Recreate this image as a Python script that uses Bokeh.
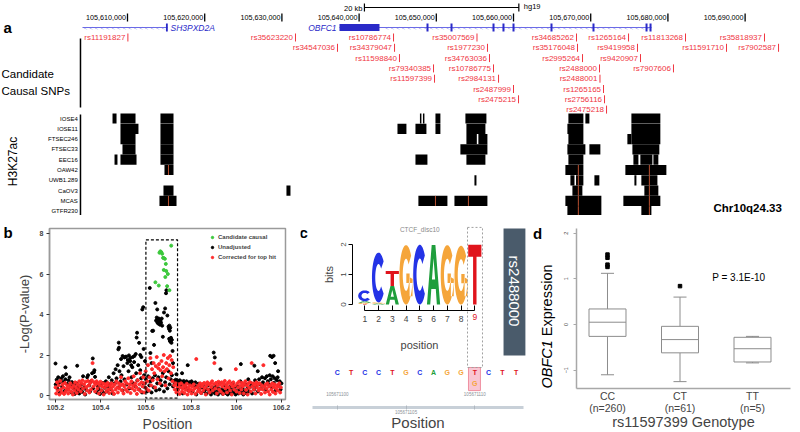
import numpy as np
from bokeh.plotting import figure
from bokeh.layouts import column, row
from bokeh.models import Range1d, Label, LinearAxis, FixedTicker, Legend, LegendItem
from bokeh.core.properties import value
from bokeh.embed import file_html
from bokeh.resources import INLINE

FONT = "Liberation Sans"

# ------------------------------------------------------------------ panel a data
GENOME_TICKS = [105610000, 105620000, 105630000, 105640000, 105650000,
                105660000, 105670000, 105680000, 105690000]
GENOME_TICK_LABELS = ["105,610,000", "105,620,000", "105,630,000", "105,640,000", "105,650,000",
                      "105,660,000", "105,670,000", "105,680,000", "105,690,000"]
SCALE_BAR = [105640690, 105660690]          # 20 kb
GENE_NAMES = ["SH3PXD2A", "OBFC1"]
GENE_START = [105604170, 105637460]
GENE_END = [105615180, 105677880]
SH3_EXONS = [105615100]
OBFC1_CDS = [105637460, 105642640]
OBFC1_EXONS = [105648860, 105651970, 105657410, 105658700, 105660000,
               105664920, 105670360, 105677230, 105677750]

SNP_NAMES = ["rs11191827", "rs35623220", "rs34547036", "rs10786774", "rs34379047", "rs11598840",
             "rs79340385", "rs11597399", "rs35007569", "rs1977230", "rs34763036", "rs10786775",
             "rs2984131", "rs2487999", "rs2475215", "rs34685262", "rs35176048", "rs2995264",
             "rs2488000", "rs2488001", "rs1265165", "rs2756116", "rs2475218", "rs1265164",
             "rs9419958", "rs9420907", "rs7907606", "rs11813268", "rs11591710", "rs35818937",
             "rs7902587"]
SNP_POS = [105610050, 105631760, 105637200, 105644460, 105644590, 105645230,
           105649640, 105649770, 105655270, 105656630, 105656890, 105657410,
           105658060, 105660000, 105660650, 105668160, 105668290, 105668940,
           105671140, 105671200, 105671660, 105671790, 105672050, 105674900,
           105676060, 105676450, 105680720, 105682280, 105687590, 105692510,
           105694330]
SNP_ROW = [0, 0, 1, 0, 1, 2, 3, 4, 0, 1, 2, 3, 4, 5, 6, 0, 1, 2, 3, 4, 5, 6, 7, 0, 1, 2, 3, 0, 1, 0, 1]

TRACKS = ["IOSE4", "IOSE11", "FTSEC246", "FTSEC33", "EEC16", "OAW42", "UWB1.289", "CaOV3", "MCAS", "GTFR230"]
PEAK_TRACK = [0] * 10 + [1] * 8 + [2] * 7 + [3] * 6 + [4] * 9 + [5] * 3 + [6] * 6 + [7] * 4 + [8] * 5 + [9] * 2
PEAK_START = [105608060, 105609090, 105614270, 105647880, 105648270, 105649890, 105653770, 105667110, 105669310, 105675270,
              105609090, 105614270, 105644970, 105647300, 105649890, 105653900, 105666980, 105675270,
              105609090, 105614270, 105653900, 105655450, 105667110, 105674750, 105675270,
              105609350, 105614270, 105653120, 105666980, 105669830, 105675400,
              105608320, 105609090, 105614270, 105647300, 105653900, 105667110, 105675530, 105676430, 105678120,
              105614790, 105666720, 105674490,
              105654940, 105667370, 105668100, 105670480, 105675660, 105676560,
              105614660, 105630590, 105667630, 105676950,
              105614140, 105647680, 105652350, 105666720, 105674230,
              105666980, 105676560]
PEAK_END = [105608580, 105611040, 105615960, 105648070, 105648460, 105650530, 105656490, 105669050, 105669830, 105679020,
            105611420, 105615960, 105646130, 105648720, 105650530, 105656360, 105669050, 105679020,
            105611040, 105615960, 105655250, 105656620, 105669050, 105675270, 105679020,
            105611040, 105615960, 105656620, 105669310, 105671250, 105678890,
            105608700, 105611170, 105615960, 105648850, 105656360, 105669050, 105676180, 105677990, 105678760,
            105615960, 105669050, 105679800,
            105655200, 105667900, 105669050, 105671120, 105675920, 105678640,
            105615960, 105631110, 105668920, 105678760,
            105616350, 105651440, 105656620, 105671380, 105679020,
            105671380, 105677860]
MARK_TRACK = [5, 8, 8, 8, 5, 6, 7, 8, 9, 5, 6, 7, 8, 9]
MARK_POS = [105615310, 105615310, 105649890, 105654160,
            105668400, 105668400, 105668400, 105668400, 105668400,
            105677600, 105677600, 105677600, 105677600, 105677600]

# ------------------------------------------------------------------ panel b data
UNADJ = [(105.201, .55), (105.205, .78), (105.208, .35), (105.212, .9), (105.215, .62), (105.219, .12), (105.222, .71),
         (105.226, .85), (105.229, .44), (105.233, .95), (105.236, .68), (105.24, .22), (105.244, .8), (105.247, 1.05),
         (105.251, .58), (105.255, .3), (105.258, .75), (105.262, .9), (105.266, .48), (105.27, .15), (105.273, .66),
         (105.277, .38), (105.281, .52), (105.285, .08), (105.289, .3), (105.293, .6), (105.297, .22), (105.301, .42),
         (105.305, .1), (105.31, .35), (105.314, .55), (105.318, .18), (105.322, .95), (105.327, .4), (105.331, .05),
         (105.336, .28), (105.34, .9), (105.344, 1.0), (105.349, .5), (105.353, .2), (105.357, .7), (105.362, 1.1),
         (105.366, .35), (105.37, 1.15), (105.375, .92), (105.379, .6), (105.383, .15), (105.388, .45), (105.392, .3),
         (105.397, .08), (105.401, .5), (105.405, .25), (105.41, .62), (105.414, .12), (105.418, .38), (105.423, .7),
         (105.427, .2), (105.431, .45), (105.436, .9), (105.44, .55), (105.444, .32), (105.449, .75), (105.453, .1),
         (105.457, 1.1), (105.462, .6), (105.466, 1.3), (105.47, .85), (105.475, 1.5), (105.479, .4), (105.483, 1.2),
         (105.488, .7), (105.492, 1.0), (105.497, .25), (105.501, 1.45), (105.505, .8), (105.51, 1.9), (105.514, .55),
         (105.518, 1.6), (105.523, 1.2), (105.527, .35), (105.531, 1.85), (105.536, .9), (105.54, 1.4), (105.544, .6),
         (105.549, 1.95), (105.553, .45), (105.557, 1.1), (105.562, .75), (105.566, 1.5), (105.57, .3), (105.575, 1.25),
         (105.579, .85), (105.583, .15), (105.588, .6), (105.592, 1.0), (105.596, .4), (105.6, .8), (105.605, .2),
         (105.61, .95), (105.615, .5), (105.62, .7), (105.625, .15), (105.63, .85), (105.635, .4), (105.64, 1.0),
         (105.645, .25), (105.65, .6), (105.655, .9), (105.66, .3), (105.665, .75), (105.67, .5), (105.675, 1.1),
         (105.68, .2), (105.685, .65), (105.69, .9), (105.695, .35), (105.7, 1.2), (105.705, .55), (105.71, .8),
         (105.715, 1.0), (105.72, .45), (105.724, .72), (105.728, .6), (105.732, .78), (105.737, .66), (105.741, .3),
         (105.745, .7), (105.75, .75), (105.754, .52), (105.758, .68), (105.763, .1), (105.767, .72), (105.771, .6),
         (105.776, .4), (105.78, .7), (105.784, .62), (105.789, .25), (105.793, .66), (105.797, .55), (105.802, .7),
         (105.806, .2), (105.81, .6), (105.815, .5), (105.819, .65), (105.823, .05), (105.828, .45), (105.832, .58),
         (105.836, .3), (105.841, .5), (105.845, .12), (105.849, .4), (105.854, .55), (105.858, .22), (105.862, .35),
         (105.867, .08), (105.871, .3), (105.875, .5), (105.88, .15), (105.884, .28), (105.888, .05), (105.893, .4),
         (105.897, .18), (105.901, .3), (105.906, .1), (105.91, .45), (105.914, .2), (105.919, .05), (105.923, .35),
         (105.927, .6), (105.932, .15), (105.936, .3), (105.94, .08), (105.945, .25), (105.949, .5), (105.953, .12),
         (105.958, .3), (105.962, .05), (105.966, .2), (105.971, .42), (105.975, .1), (105.979, .28), (105.984, .6),
         (105.988, .15), (105.992, .35), (105.997, .05), (106.001, .22), (106.005, .45), (106.01, .1), (106.014, .3),
         (106.018, .7), (106.023, .15), (106.027, .38), (106.031, .05), (106.036, .25), (106.04, .55), (106.044, .12),
         (106.049, .35), (106.053, .8), (106.057, .2), (106.062, .42), (106.066, .6), (106.07, .1), (106.075, .5),
         (106.079, .3), (106.083, .75), (106.088, .45), (106.092, .62), (106.096, .2), (106.101, .8), (106.105, .55),
         (106.109, .35), (106.114, .9), (106.118, .65), (106.122, .48), (106.127, .85), (106.131, .3), (106.135, .95),
         (106.14, .7), (106.144, .55), (106.148, 1.0), (106.153, .8), (106.157, .4), (106.161, .95), (106.166, .62),
         (106.17, .85), (106.174, .25), (106.179, .75), (106.183, .9), (106.187, .5), (106.192, .7), (106.196, .3),
         (106.2, .6),
         # elevated signal
         (105.2, 1.58), (105.244, 1.39), (105.296, 1.47), (105.365, 1.83), (105.372, 1.25), (105.48, 2.61),
         (105.481, 2.36), (105.478, 2.28), (105.49, 1.8), (105.497, 1.95), (105.505, 1.88), (105.512, 1.92),
         (105.52, 1.75), (105.525, 1.98), (105.53, 1.7), (105.535, 1.5), (105.542, 1.9), (105.548, 1.65),
         (105.555, 2.05), (105.561, 3.1), (105.559, 2.86), (105.57, 2.6), (105.575, 2.0), (105.58, 1.9),
         (105.584, 4.25), (105.588, 4.36), (105.59, 2.3), (105.596, 1.7), (105.617, 5.31), (105.62, 2.1),
         (105.625, 1.6), (105.628, 3.19), (105.632, 3.2), (105.636, 2.5), (105.642, 4.57), (105.65, 4.25),
         (105.645, 3.7), (105.648, 3.85), (105.651, 3.6), (105.653, 3.75), (105.655, 3.55), (105.657, 3.8),
         (105.66, 3.65), (105.662, 3.5), (105.664, 3.72), (105.667, 3.6), (105.67, 3.8), (105.672, 3.45),
         (105.675, 2.9), (105.68, 4.1), (105.685, 4.3), (105.689, 5.05), (105.691, 5.2), (105.695, 3.95),
         (105.7, 3.4), (105.702, 3.3), (105.704, 3.45), (105.706, 3.2), (105.708, 3.35), (105.703, 2.8),
         (105.706, 2.7), (105.709, 2.65), (105.711, 2.85), (105.713, 2.6), (105.715, 2.75), (105.718, 2.2),
         (105.72, 1.6), (105.735, 1.05), (105.76, 1.1), (105.785, 1.5), (105.9, 2.12), (105.905, 1.88),
         (105.93, 1.3), (106.02, 1.55), (106.08, 1.47), (106.095, 1.2), (106.15, 1.96), (106.158, 1.9),
         (106.165, 1.96), (106.172, 1.6), (106.185, 1.2)]
CORRECTED = [(105.2, .4), (105.203, .1), (105.207, .65), (105.21, .25), (105.214, .5), (105.217, .05), (105.221, .72),
             (105.224, .3), (105.228, .15), (105.231, .55), (105.235, .4), (105.238, .08), (105.242, .62), (105.245, .2),
             (105.249, .35), (105.252, .5), (105.256, .1), (105.259, .28), (105.263, .45), (105.266, .6), (105.27, .18),
             (105.273, .38), (105.277, .05), (105.28, .5), (105.284, .25), (105.287, .65), (105.291, .4), (105.294, .12),
             (105.298, .55), (105.301, .3), (105.305, .7), (105.308, .45), (105.312, .2), (105.315, .6), (105.319, .75),
             (105.322, .35), (105.326, .55), (105.329, .08), (105.333, .68), (105.336, .42), (105.34, .25), (105.343, .72),
             (105.347, .5), (105.35, .15), (105.354, .62), (105.357, .3), (105.361, .75), (105.364, 1.6), (105.368, .45),
             (105.371, .65), (105.375, .2), (105.378, .55), (105.382, .7), (105.385, .35), (105.389, .6), (105.392, .1),
             (105.396, .5), (105.399, .68), (105.403, .25), (105.406, .45), (105.41, .6), (105.413, .05), (105.417, .38),
             (105.42, .55), (105.424, .2), (105.427, .48), (105.431, .62), (105.434, .3), (105.438, .12), (105.441, .5),
             (105.445, .35), (105.448, .6), (105.452, .22), (105.455, .45), (105.459, .08), (105.462, .55), (105.466, .3),
             (105.469, .7), (105.473, .4), (105.476, .15), (105.48, .6), (105.483, .35), (105.487, .5), (105.49, .9),
             (105.494, .25), (105.497, .55), (105.501, .1), (105.504, .45), (105.508, .7), (105.511, .3), (105.515, .6),
             (105.518, .2), (105.522, .85), (105.525, .4), (105.529, .55), (105.532, .12), (105.536, .7), (105.539, .35),
             (105.543, .5), (105.546, .95), (105.55, .25), (105.553, .6), (105.557, .42), (105.56, .08), (105.564, .75),
             (105.567, .3), (105.571, .55), (105.574, 1.1), (105.578, .2), (105.581, .65), (105.585, .45), (105.588, .9),
             (105.592, .15), (105.595, .6), (105.599, 1.2), (105.602, .35), (105.606, .7), (105.609, 1.5), (105.613, .25),
             (105.616, .9), (105.62, 1.85), (105.623, .5), (105.627, 1.3), (105.63, .75), (105.634, 1.6), (105.637, 1.1),
             (105.641, .4), (105.644, 1.45), (105.648, 1.9), (105.651, .8), (105.655, 1.35), (105.658, 1.55), (105.662, .6),
             (105.665, 1.25), (105.669, 1.7), (105.672, .95), (105.676, 1.4), (105.679, 2.0), (105.683, 1.2), (105.686, .5),
             (105.69, 1.6), (105.693, 1.3), (105.697, 1.85), (105.7, .85), (105.704, 1.5), (105.707, 1.95), (105.711, 1.1),
             (105.714, 1.75), (105.718, .7), (105.721, 1.4), (105.725, .5), (105.728, .3), (105.732, .6), (105.735, .15),
             (105.739, .45), (105.742, .25), (105.746, .55), (105.749, .08), (105.753, .4), (105.756, .6), (105.76, .2),
             (105.763, .35), (105.767, .5), (105.77, .12), (105.774, .45), (105.777, .28), (105.781, .58), (105.784, .05),
             (105.788, .4), (105.791, .22), (105.795, .5), (105.798, .3), (105.802, .1), (105.805, .45), (105.809, .25),
             (105.812, .55), (105.816, .35), (105.819, .08), (105.823, 1.8), (105.826, .4), (105.83, .2), (105.833, .5),
             (105.837, .3), (105.84, .6), (105.844, .12), (105.847, .45), (105.851, .55), (105.854, .25), (105.858, .62),
             (105.861, .38), (105.865, .05), (105.868, .5), (105.872, .65), (105.875, .3), (105.879, .55), (105.882, .15),
             (105.886, .6), (105.889, .42), (105.893, .7), (105.896, .25), (105.9, .55), (105.903, 1.6), (105.907, .35),
             (105.91, .62), (105.914, .1), (105.917, .5), (105.921, .68), (105.924, .3), (105.928, .55), (105.931, .2),
             (105.935, .65), (105.938, .45), (105.942, .08), (105.945, .58), (105.949, .72), (105.952, .35), (105.956, .5),
             (105.959, .15), (105.963, .62), (105.966, .4), (105.97, .7), (105.973, .25), (105.977, .55), (105.98, .05),
             (105.984, .45), (105.987, .65), (105.991, .3), (105.994, .5), (105.998, 1.3), (106.001, .2), (106.005, .6),
             (106.008, .4), (106.012, .68), (106.015, .12), (106.019, .5), (106.022, .3), (106.026, .62), (106.029, .45),
             (106.033, .1), (106.036, .55), (106.04, .7), (106.043, .28), (106.047, .5), (106.05, .05), (106.054, .6),
             (106.057, .38), (106.061, .65), (106.064, .2), (106.068, 1.6), (106.071, .45), (106.075, .6), (106.078, .3),
             (106.082, .52), (106.085, .1), (106.089, .65), (106.092, .4), (106.096, .55), (106.099, .25), (106.103, .6),
             (106.106, .35), (106.11, .08), (106.113, .5), (106.117, .3), (106.12, 1.5), (106.124, .45), (106.127, .15),
             (106.131, .55), (106.134, .35), (106.138, .6), (106.141, .2), (106.145, .45), (106.148, .05), (106.152, .5),
             (106.155, .3), (106.159, .6), (106.162, .18), (106.166, .42), (106.169, .55), (106.173, .1), (106.176, .35),
             (106.18, .5), (106.183, .25), (106.187, .45), (106.19, .6), (106.194, .15), (106.197, .4)]
CANDIDATE = [(105.642, 5.59), (105.657, 5.43), (105.66, 7.05), (105.664, 7.12), (105.668, 7.08), (105.672, 7.0),
             (105.676, 6.8), (105.68, 6.78), (105.684, 6.75), (105.679, 6.2), (105.69, 6.15), (105.686, 5.85),
             (105.697, 6.0), (105.694, 5.4), (105.704, 5.2), (105.712, 7.4), (105.688, 6.5)]
REGION = dict(left=105.60, right=105.74, bottom=-0.13, top=7.69)
B_TICKS = [105.2, 105.4, 105.6, 105.8, 106.0, 106.2]
B_PLOT_X = (105.1735, 106.2177)     # plotting box
B_PLOT_Y = (-0.198, 8.247)

# ------------------------------------------------------------------ panel c data
LOGO_X = [105671102, 105671103, 105671104, 105671105, 105671106, 105671107, 105671108, 105671109, 105671110]
LOGO_STACKS = [[("T", 0.02), ("G", 0.04), ("A", 0.05), ("C", 0.36)],
               [("A", 0.03), ("G", 0.04), ("C", 1.66)],
               [("A", 0.62), ("T", 0.50)],
               [("G", 1.98)], [("C", 1.99)], [("A", 1.98)], [("G", 1.98)], [("G", 1.96)], [("T", 1.99)]]
SEQ_X = [105671100, 105671101, 105671102, 105671103, 105671104, 105671105, 105671106,
         105671107, 105671108, 105671109, 105671110, 105671111, 105671112, 105671113]
SEQ_BASES = list("CTCCTGCAGGTCTT")
SNP_X = 105671110
ALT_BASE = "G"
GEN_TICKS = [105671100, 105671105, 105671110]
BASE_COLOR = {"A": "#1f9e3c", "C": "#2433e6", "G": "#f5a53a", "T": "#e0141c"}

# ------------------------------------------------------------------ panel d data
GENOTYPES = ["CC", "CT", "TT"]
GENO_N = [260, 61, 5]
Q1 = [-0.26, -0.62, -0.82]
MED = [0.05, -0.33, -0.53]
Q3 = [0.34, -0.04, -0.28]
LOWER = [-1.10, -1.25, -0.84]
UPPER = [1.12, 0.60, -0.26]
OUT_GROUP = [1, 1, 1, 1, 2]
OUT_VAL = [1.53, 1.46, 1.31, 1.26, 0.84]
D_PLOT_X = (0.572, 3.524)
D_PLOT_Y = (-1.40, 2.10)


def lab(p, text, x, y, size, color="black", style="normal", align="left", baseline="middle",
        angle=0.0, xu="data", yu="data"):
    p.add_layout(Label(x=x, y=y, x_units=xu, y_units=yu, text=text, text_font=FONT,
                       text_font_size=f"{size}px", text_color=color, text_font_style=style,
                       text_align=align, text_baseline=baseline, angle=angle))


def base_fig(w, h, xr, yr):
    p = figure(width=w, height=h, x_range=Range1d(*xr), y_range=Range1d(*yr),
               x_axis_type=None, y_axis_type=None, output_backend="svg", toolbar_location=None,
               min_border=0, outline_line_color=None)
    return p


def style_axis(ax, size="7px", bold=False):
    ax.minor_tick_line_color = None
    ax.major_label_text_font = FONT
    ax.major_label_text_font_size = size
    if bold:
        ax.major_label_text_font_style = "bold"
    ax.axis_label_text_font = FONT
    ax.axis_label_text_font_style = "normal"


# ================================================================== panel a
pa = base_fig(800, 215, (105593550, 105697174), (215, 0))
nt = len(GENOME_TICKS)
pa.segment(GENOME_TICKS, [13] * nt, GENOME_TICKS, [21] * nt, line_color="black", line_width=1.3)
pa.text(GENOME_TICKS, [17] * nt, text=GENOME_TICK_LABELS, text_align="right", text_baseline="middle",
        x_offset=-1.5, text_font=value(FONT), text_font_size="7.2px", text_color="black")
# scale bar
pa.segment([SCALE_BAR[0]], [7], [SCALE_BAR[1]], [7], line_color="black", line_width=1)
pa.segment(SCALE_BAR, [3, 3], SCALE_BAR, [11, 11], line_color="black", line_width=1.2)
pa.text([SCALE_BAR[0]], [7.5], text=["20 kb"], text_align="right", text_baseline="middle", x_offset=-2,
        text_font=value(FONT), text_font_size="7.5px")
pa.text([SCALE_BAR[1]], [6], text=["hg19"], text_align="left", text_baseline="middle", x_offset=5,
        text_font=value(FONT), text_font_size="7.5px")
# genes
GY = 27
GENE_BLUE = "#2a2ac8"
pa.segment(GENE_START, [GY] * 2, GENE_END, [GY] * 2, line_color="#6a6ae6", line_width=1)
chev_x = np.concatenate([np.arange(GENE_START[i] + 400, GENE_END[i] - 300, 720) for i in range(2)])
chev_x = chev_x[(chev_x < OBFC1_CDS[0]) | (chev_x > OBFC1_CDS[1] + 300)]
pa.text(chev_x, [GY] * len(chev_x), text=["<"] * len(chev_x), text_align="center", text_baseline="middle",
        text_font=value(FONT), text_font_size="5.5px", text_color="#7070e6")
pa.quad(left=[x - 120 for x in SH3_EXONS], right=[x + 120 for x in SH3_EXONS], bottom=GY - 4, top=GY + 4,
        fill_color=GENE_BLUE, line_color=None)
pa.quad(left=[OBFC1_CDS[0]], right=[OBFC1_CDS[1]], bottom=GY - 3.5, top=GY + 3.5, fill_color=GENE_BLUE, line_color=None)
pa.quad(left=[x - 130 for x in OBFC1_EXONS], right=[x + 130 for x in OBFC1_EXONS], bottom=GY - 4, top=GY + 4,
        fill_color=GENE_BLUE, line_color=None)
pa.text([GENE_END[0], GENE_START[1]], [GY + 0.5] * 2, text=GENE_NAMES, text_align=["left", "right"],
        x_offset=[3, -3], text_baseline="middle", text_font=value(FONT), text_font_size="8.5px",
        text_font_style="italic", text_color=GENE_BLUE)
# candidate SNPs
SNP_RED = "#f0363f"
snp_y = [37 + 10.3 * r for r in SNP_ROW]
pa.text(SNP_POS, snp_y, text=SNP_NAMES, text_align="right", text_baseline="middle", x_offset=-2.5,
        text_font=value(FONT), text_font_size="8px", text_color=SNP_RED)
pa.segment(SNP_POS, [y - 4 for y in snp_y], SNP_POS, [y + 4 for y in snp_y], line_color=SNP_RED, line_width=1)
# H3K27ac tracks
track_y = [118 + 10.3 * i for i in range(len(TRACKS))]
py_ = [track_y[t] for t in PEAK_TRACK]
pa.quad(left=PEAK_START, right=PEAK_END, bottom=[y + 5.1 for y in py_], top=[y - 5.1 for y in py_],
        fill_color="black", line_color=None)
my_ = [track_y[t] for t in MARK_TRACK]
pa.segment(MARK_POS, [y - 5 for y in my_], MARK_POS, [y + 5 for y in my_], line_color="#e8643c", line_width=0.8)
TRACK_EDGE = 105603910
pa.text([TRACK_EDGE - 350] * len(TRACKS), track_y, text=TRACKS, text_align="right", text_baseline="middle",
        text_font=value(FONT), text_font_size="6px", text_color="black")
pa.segment([TRACK_EDGE, TRACK_EDGE], [38, 114], [TRACK_EDGE, TRACK_EDGE], [107, 215], line_color="black", line_width=1.5)
lab(pa, "a", 105593940, 27, 15, style="bold")
lab(pa, "Candidate", 105593680, 73, 11.5)
lab(pa, "Causal SNPs", 105593680, 90, 11.5)
lab(pa, "H3K27ac", 105595230, 161, 12, align="center", angle=np.pi / 2)
lab(pa, "Chr10q24.33", 105685905, 207, 11.5, style="bold")

# ================================================================== panel b
pb = base_fig(300, 217, (104.9566, 106.2841), (-1.827, 8.889))
xb = LinearAxis(fixed_location=B_PLOT_Y[0], bounds=B_PLOT_X, ticker=FixedTicker(ticks=B_TICKS),
                major_label_overrides={106.0: "106"}, axis_label="Position")
yb = LinearAxis(fixed_location=B_PLOT_X[0], bounds=B_PLOT_Y, ticker=FixedTicker(ticks=[0, 2, 4, 6, 8]),
                axis_label="-Log(P-value)")
for ax in (xb, yb):
    style_axis(ax, "7px", bold=True)
    ax.axis_line_color = "#9a9a9a"
    ax.axis_line_width = 1.5
    ax.major_tick_line_color = "#333333"
    ax.major_tick_out = 3
    ax.major_tick_in = 0
xb.major_label_standoff = 2
xb.axis_label_text_font_size = "14px"
xb.axis_label_standoff = 3
yb.major_label_standoff = 3
yb.axis_label_text_font_size = "13px"
yb.axis_label_standoff = 5
pb.add_layout(xb, "below")
pb.add_layout(yb, "left")
pb.quad(left=[B_PLOT_X[0]], right=[B_PLOT_X[1]], bottom=[B_PLOT_Y[0]], top=[B_PLOT_Y[1]],
        fill_color=None, line_color="#9a9a9a", line_width=1.5)
rb = pb.scatter([p[0] for p in UNADJ], [p[1] for p in UNADJ], size=3, color="black")
rr = pb.scatter([p[0] for p in CORRECTED], [p[1] for p in CORRECTED], size=3, color="#ff2a2a")
rg = pb.scatter([p[0] for p in CANDIDATE], [p[1] for p in CANDIDATE], size=3, color="#3cc83c")
pb.quad(left=[REGION["left"]], right=[REGION["right"]], bottom=[REGION["bottom"]], top=[REGION["top"]],
        fill_color=None, line_color="black", line_dash="3 2", line_width=1.2)
leg = Legend(items=[LegendItem(label="Candidate causal", renderers=[rg]),
                    LegendItem(label="Unadjusted", renderers=[rb]),
                    LegendItem(label="Corrected for top hit", renderers=[rr])],
             location=(209, 170), margin=0, padding=0, spacing=0, label_height=10, glyph_height=8,
             glyph_width=6, label_standoff=3, label_text_font=FONT, label_text_font_size="6px",
             label_text_font_style="bold", background_fill_alpha=0, border_line_color=None)
pb.add_layout(leg)
lab(pb, "b", 104.97, 8.05, 15, style="bold")

# ================================================================== panel c
pc = base_fig(230, 217, (105671097.324, 105671114.051), (-4.267, 2.967))


def glyph_shapes(ch):
    th = np.radians
    if ch in "CG":
        a1 = 320 if ch == "C" else 352
        ang = th(np.linspace(40, a1, 48))
        ou, ov = 0.5 + 0.5 * np.cos(ang), 0.5 + 0.5 * np.sin(ang)
        iu, iv = 0.5 + 0.25 * np.cos(ang[::-1]), 0.5 + 0.27 * np.sin(ang[::-1])
        polys = [[(np.r_[ou, iu], np.r_[ov, iv])]]
        if ch == "G":
            polys.append([(np.array([0.52, 1.0, 1.0, 0.52]), np.array([0.36, 0.36, 0.52, 0.52]))])
            polys.append([(np.array([0.77, 0.99, 0.99, 0.77]), np.array([0.14, 0.14, 0.52, 0.52]))])
        return polys
    if ch == "A":
        outer = (np.array([0, 0.36, 0.64, 1, 0.75, 0.67, 0.33, 0.25]), np.array([0, 1, 1, 0, 0, 0.26, 0.26, 0]))
        hole = (np.array([0.38, 0.5, 0.62]), np.array([0.42, 0.78, 0.42]))
        return [[outer, hole]]
    return [[(np.array([0, 1, 1, 0]), np.array([0.8, 0.8, 1, 1]))],
            [(np.array([0.37, 0.63, 0.63, 0.37]), np.array([0, 0, 0.8, 0.8]))]]


lx, ly, lc = [], [], []
for xc, stack in zip(LOGO_X, LOGO_STACKS):
    base = 0.0
    for ch, h in stack:
        x0, w = xc - 0.48, 0.96
        gx, gy = [], []
        for poly in glyph_shapes(ch):
            gx.append([list(x0 + u * w) for u, v in poly])
            gy.append([list(base + v * h) for u, v in poly])
        lx.append(gx)
        ly.append(gy)
        lc.append(BASE_COLOR[ch])
        base += h
pc.multi_polygons(xs=lx, ys=ly, fill_color=lc, line_color=None)

bits_ax = LinearAxis(fixed_location=105671101.1, ticker=FixedTicker(ticks=[0, 1, 2]), bounds=(0, 2),
                     axis_label="bits", axis_label_standoff=4, major_label_orientation="vertical",
                     major_tick_out=4, major_tick_in=0, major_label_standoff=2)
style_axis(bits_ax, "8px")
bits_ax.axis_label_text_font_size = "11px"
pc.add_layout(bits_ax, "left")
pos_ax = LinearAxis(fixed_location=-0.2, ticker=FixedTicker(ticks=LOGO_X), bounds=(LOGO_X[0], LOGO_X[-1]),
                    major_label_overrides={x: (str(i + 1) if x != SNP_X else " ") for i, x in enumerate(LOGO_X)},
                    axis_label="position", axis_label_standoff=12, major_tick_in=5, major_tick_out=0,
                    major_label_standoff=3)
style_axis(pos_ax, "8.5px")
pos_ax.axis_label_text_font_size = "11px"
pc.add_layout(pos_ax, "below")
gen_ax = LinearAxis(fixed_location=-3.433, bounds=(105671098.2, 105671113.54), ticker=FixedTicker(ticks=GEN_TICKS),
                    major_label_overrides={GEN_TICKS[0]: " ", GEN_TICKS[1]: str(GEN_TICKS[1]), GEN_TICKS[2]: " "},
                    axis_line_color="#c8d0d8", axis_line_width=3, major_tick_line_color="#b0b8c0",
                    major_tick_out=2, major_tick_in=2, major_label_text_color="#8a9096", major_label_standoff=1,
                    axis_label="Position", axis_label_standoff=-5)
style_axis(gen_ax, "4.5px")
gen_ax.axis_label_text_font_size = "15px"
pc.add_layout(gen_ax, "below")
pc.text([GEN_TICKS[0], GEN_TICKS[2]], [-3.0, -3.0], text=[str(GEN_TICKS[0]), str(GEN_TICKS[2])],
        text_align="center", text_baseline="middle", text_font=value(FONT), text_font_size="4.5px",
        text_color="#8a9096")
lab(pc, "9", SNP_X, -0.3, 8.5, color="#e0141c", align="center", baseline="top")
lab(pc, "CTCF_disc10", 105671106, 2.5, 6.5, color="#8a8a8a", align="center")
lab(pc, "c", 105671097.55, 2.4, 15, style="bold", align="center")
# rs box
pc.quad(left=[105671112.09], right=[105671113.68], bottom=[-1.7], top=[2.533], fill_color="#4a5b6b", line_color=None)
lab(pc, "rs2488000", 105671112.885, 0.45, 15, color="white", align="center", angle=-np.pi / 2)
# highlight boxes
pc.quad(left=[SNP_X - 0.46], right=[SNP_X + 0.41], bottom=[-2.87], top=[-2.1], fill_color="#f9c6d2",
        line_color="#ef8fa0", line_width=1)
pc.quad(left=[SNP_X - 0.53], right=[SNP_X + 0.56], bottom=[-2.1], top=[2.57], fill_color=None,
        line_color="#a0a0a0", line_dash="2 2", line_width=1)
pc.text(SEQ_X, [-2.27] * len(SEQ_X), text=SEQ_BASES, text_color=[BASE_COLOR[b] for b in SEQ_BASES],
        text_align="center", text_baseline="middle", text_font=value(FONT), text_font_size="7px",
        text_font_style="bold")
pc.text([SNP_X], [-2.63], text=[ALT_BASE], text_color=BASE_COLOR[ALT_BASE], text_align="center",
        text_baseline="middle", text_font=value(FONT), text_font_size="7px", text_font_style="bold")

# ================================================================== panel d
pd_ = base_fig(270, 217, (-0.062, 3.662), (-2.363, 2.385))
GX = list(range(1, len(GENOTYPES) + 1))
xd = LinearAxis(fixed_location=D_PLOT_Y[0], bounds=D_PLOT_X, ticker=FixedTicker(ticks=GX),
                major_label_overrides={x: f"{g}\n(n={n})" for x, g, n in zip(GX, GENOTYPES, GENO_N)},
                axis_label="rs11597399 Genotype")
yd = LinearAxis(fixed_location=D_PLOT_X[0], bounds=D_PLOT_Y, ticker=FixedTicker(ticks=[-1, 0, 1, 2]))
for ax in (xd, yd):
    style_axis(ax)
    ax.axis_line_color = "#a8a8a8"
    ax.axis_line_width = 1.5
xd.major_tick_line_color = None
xd.major_tick_out = 0
xd.major_tick_in = 0
xd.major_label_text_font_size = "10.5px"
xd.major_label_text_line_height = 0.95
xd.major_label_standoff = 2
xd.axis_label_text_font_size = "14.5px"
xd.axis_label_standoff = -3
yd.major_label_orientation = "vertical"
yd.major_label_text_font_size = "5.5px"
yd.major_tick_line_color = "#a8a8a8"
yd.major_tick_out = 3
yd.major_tick_in = 0
pd_.add_layout(xd, "below")
pd_.add_layout(yd, "left")
BOX_C = "#8c8c8c"
pd_.segment(GX, Q3, GX, UPPER, line_color=BOX_C, line_width=1)
pd_.segment(GX, Q1, GX, LOWER, line_color=BOX_C, line_width=1)
pd_.segment([x - 0.09 for x in GX], UPPER, [x + 0.09 for x in GX], UPPER, line_color=BOX_C, line_width=1)
pd_.segment([x - 0.09 for x in GX], LOWER, [x + 0.09 for x in GX], LOWER, line_color=BOX_C, line_width=1)
pd_.vbar(x=GX, width=0.51, bottom=Q1, top=Q3, fill_color="white", line_color=BOX_C, line_width=1)
pd_.segment([x - 0.255 for x in GX], MED, [x + 0.255 for x in GX], MED, line_color=BOX_C, line_width=1)
pd_.scatter(OUT_GROUP, OUT_VAL, marker="square", size=3.5, color="black")
lab(pd_, "P = 3.1E-10", 2.81, 1.03, 10, align="center")
lab(pd_, "d", 0.034, 1.99, 15, style="bold", align="center")
lab(pd_, "OBFC1", 0.172, -1.40, 14.5, style="italic", angle=np.pi / 2)
lab(pd_, "Expression", 0.172, -0.256, 14.5, angle=np.pi / 2)

layout = column(pa, row(pb, pc, pd_, spacing=0), spacing=0)
open("out.html", "w").write(file_html(layout, INLINE))
